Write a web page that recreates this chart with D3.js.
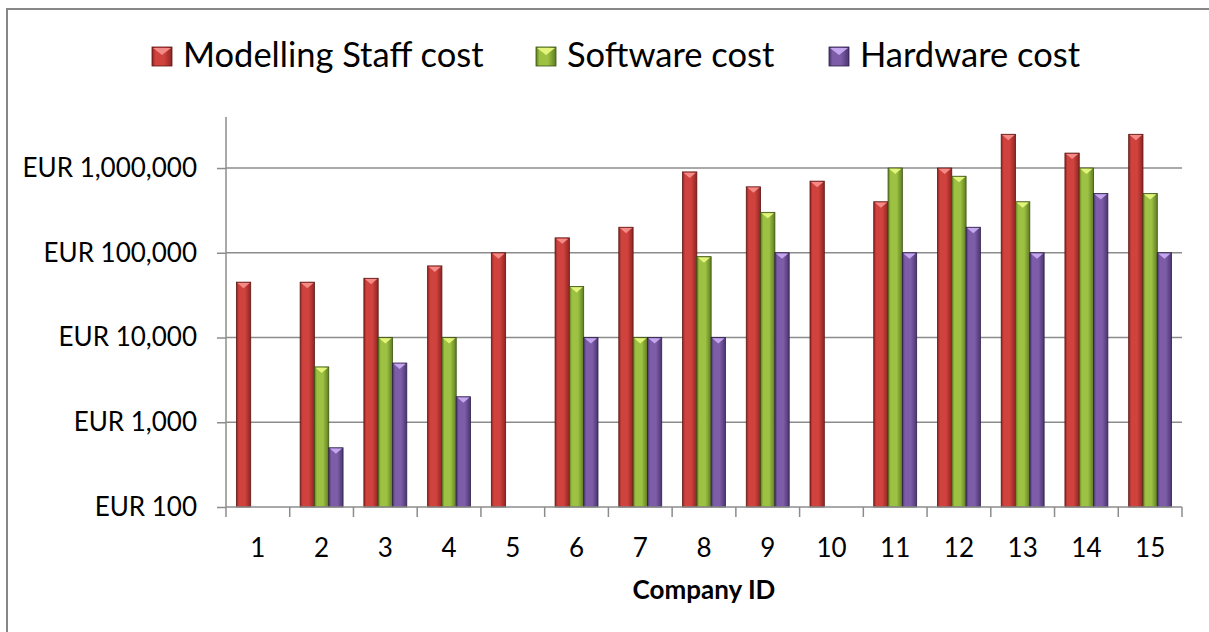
<!DOCTYPE html>
<html>
<head>
<meta charset="utf-8">
<script src="https://cdn.jsdelivr.net/npm/d3@7"></script>
<style>
  body { margin: 0; background: #fff; }
  svg text { font-family: Lato, "Open Sans", sans-serif; fill: #000; }
</style>
</head>
<body>
<svg id="chart" width="1209" height="632"></svg>
<script>
// company ids on the x axis
var companies = ["1","2","3","4","5","6","7","8","9","10","11","12","13","14","15"];

// costs per company (EUR), null = no value
var staffCost    = [45000, 45000, 50000, 70000, 100000, 150000, 200000, 900000, 600000, 700000, 400000, 1000000, 2500000, 1500000, 2500000];
var softwareCost = [null, 4500, 10000, 10000, null, 40000, 10000, 90000, 300000, null, 1000000, 800000, 400000, 1000000, 500000];
var hardwareCost = [null, 500, 5000, 2000, null, 10000, 10000, 10000, 100000, null, 100000, 200000, 100000, 500000, 100000];

var seriesNames = ["Modelling Staff cost", "Software cost", "Hardware cost"];
var yTicks = [100, 1000, 10000, 100000, 1000000];

var colors = [
  {dark: "#8e2522", mid: "#d0423d", light: "#f38a86", edge: "#5c1614"},
  {dark: "#5f7d22", mid: "#9dc143", light: "#e2f57a", edge: "#3d5212"},
  {dark: "#4a3670", mid: "#7d5ca8", light: "#c3a6ee", edge: "#2e2148"}
];

var svg = d3.select("#chart");
var plotLeft = 226, plotRight = 1182, plotTop = 117, plotBottom = 507;

// outer chart border (cropped on the right and bottom)
svg.append("path")
    .attr("d", "M7,640 L7,9 L1215,9")
    .attr("fill", "none")
    .attr("stroke", "#878787")
    .attr("stroke-width", 2);

var y = d3.scaleLog().domain([100, 4000000]).range([plotBottom, plotTop]);
var x = d3.scaleBand().domain(companies).range([plotLeft, plotRight]);
var inner = d3.scaleBand().domain([0, 1, 2]).range([10.4, x.bandwidth() - 10.4]);

var data = companies.map(function(c, i) {
    return {id: c, values: [staffCost[i], softwareCost[i], hardwareCost[i]]};
});

// gradients for the bevelled bars
var defs = svg.append("defs");
colors.forEach(function(c, i) {
    var g = defs.append("linearGradient").attr("id", "grad" + i)
        .attr("x1", "0").attr("x2", "1").attr("y1", "0").attr("y2", "0");
    g.append("stop").attr("offset", "0").attr("stop-color", c.dark);
    g.append("stop").attr("offset", "0.18").attr("stop-color", c.mid);
    g.append("stop").attr("offset", "0.6").attr("stop-color", c.mid);
    g.append("stop").attr("offset", "1").attr("stop-color", c.dark);
});

// gridlines
svg.append("g")
    .selectAll("line")
    .data(yTicks.slice(1))
    .enter().append("line")
    .attr("x1", plotLeft).attr("x2", plotRight)
    .attr("y1", function(d) { return y(d); })
    .attr("y2", function(d) { return y(d); })
    .attr("stroke", "#8c8c8c")
    .attr("stroke-width", 1.5);

// y axis
var yAxis = d3.axisLeft(y)
    .tickValues(yTicks)
    .tickSize(9)
    .tickPadding(20)
    .tickFormat(function(d) { return "EUR " + d3.format(",")(d); });

var ya = svg.append("g").attr("transform", "translate(" + plotLeft + ",0)").call(yAxis);
ya.select(".domain").attr("stroke", "#8c8c8c").attr("stroke-width", 1.5)
    .attr("d", "M0," + plotTop + "V" + plotBottom);
ya.selectAll(".tick line").attr("stroke", "#8c8c8c").attr("stroke-width", 1.5);
ya.selectAll(".tick text").style("font-size", "26px").style("font-family", "Lato, 'Open Sans', sans-serif").attr("fill", "#000");

// bars
var groups = svg.append("g").selectAll("g")
    .data(data)
    .enter().append("g")
    .attr("transform", function(d) { return "translate(" + x(d.id) + ",0)"; });

var bars = groups.selectAll("g")
    .data(function(d) {
        return d.values.map(function(v, k) { return {k: k, v: v}; })
            .filter(function(e) { return e.v != null; });
    })
    .enter().append("g");

var bw = inner.bandwidth();

bars.append("rect")
    .attr("x", function(d) { return inner(d.k); })
    .attr("y", function(d) { return y(d.v); })
    .attr("width", bw)
    .attr("height", function(d) { return plotBottom - y(d.v); })
    .attr("fill", function(d) { return "url(#grad" + d.k + ")"; })
    .attr("stroke", function(d) { return colors[d.k].edge; })
    .attr("stroke-width", 0.8);

bars.append("path")
    .attr("d", function(d) {
        var x0 = inner(d.k), y0 = y(d.v);
        return "M" + (x0 + 1) + "," + (y0 + 0.8) + " L" + (x0 + bw - 1) + "," + (y0 + 0.8) +
            " L" + (x0 + bw / 2) + "," + (y0 + 6) + "Z";
    })
    .attr("fill", function(d) { return colors[d.k].light; });

// x axis
var xa = svg.append("g").attr("transform", "translate(0," + plotBottom + ")");
xa.append("line").attr("x1", plotLeft).attr("x2", plotRight)
    .attr("stroke", "#8c8c8c").attr("stroke-width", 1.5);
xa.selectAll(".xt")
    .data(companies.concat(["end"]))
    .enter().append("line")
    .attr("x1", function(d, i) { return i < companies.length ? x(d) : plotRight; })
    .attr("x2", function(d, i) { return i < companies.length ? x(d) : plotRight; })
    .attr("y1", 0).attr("y2", 10)
    .attr("stroke", "#8c8c8c").attr("stroke-width", 1.5);
xa.selectAll("text")
    .data(companies)
    .enter().append("text")
    .attr("x", function(d) { return x(d) + x.bandwidth() / 2; })
    .attr("y", 50)
    .attr("text-anchor", "middle")
    .style("font-size", "26px")
    .text(function(d) { return d; });

svg.append("text")
    .attr("x", (plotLeft + plotRight) / 2)
    .attr("y", 599)
    .attr("text-anchor", "middle")
    .style("font-size", "26px")
    .style("font-weight", "bold")
    .text("Company ID");

// legend
var legendX = [152, 536, 829];
var leg = svg.append("g").selectAll("g")
    .data(seriesNames)
    .enter().append("g")
    .attr("transform", function(d, i) { return "translate(" + legendX[i] + ",47)"; });

leg.append("rect")
    .attr("width", 20).attr("height", 19)
    .attr("fill", function(d, i) { return "url(#grad" + i + ")"; })
    .attr("stroke", function(d, i) { return colors[i].edge; })
    .attr("stroke-width", 0.8);
leg.append("path")
    .attr("d", "M1,1 L19,1 L10,8Z")
    .attr("fill", function(d, i) { return colors[i].light; });
leg.append("text")
    .attr("x", 31)
    .attr("y", 20)
    .style("font-size", "34.5px")
    .text(function(d) { return d; });
</script>
</body>
</html>
